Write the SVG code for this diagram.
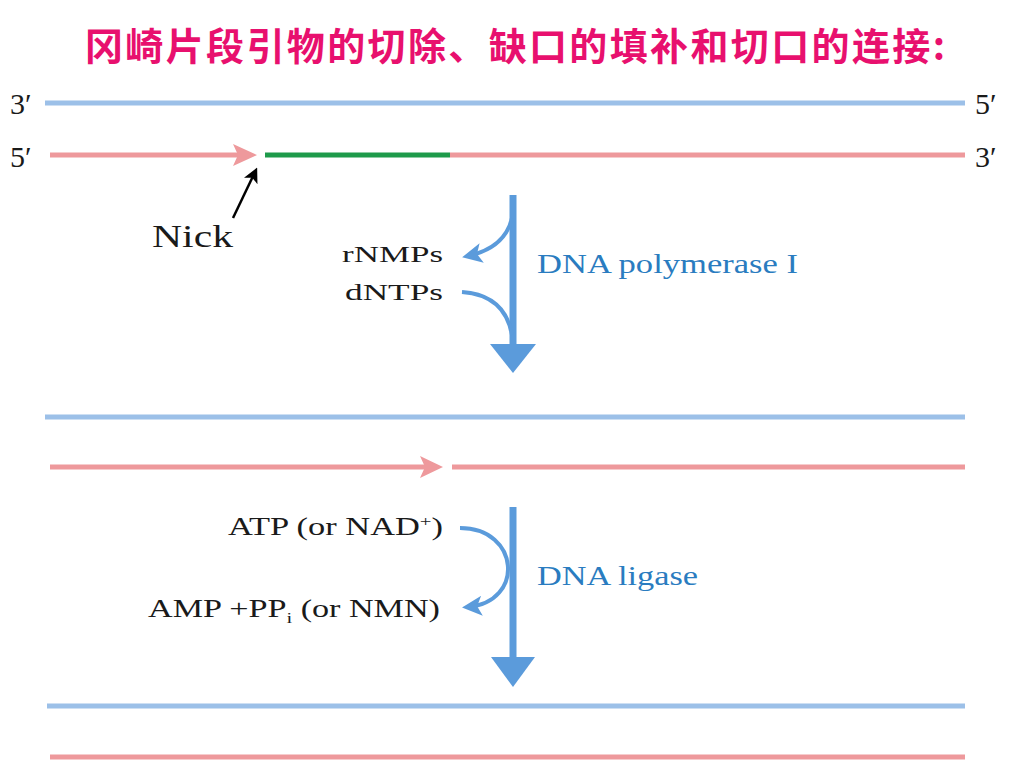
<svg xmlns="http://www.w3.org/2000/svg" width="1024" height="768" viewBox="0 0 1024 768">
<defs>
<style>
.blue{stroke:#9CC0E8;stroke-width:5;fill:none}
.pink{stroke:#EE999C;stroke-width:5;fill:none}
.green{stroke:#1E9A4A;stroke-width:5;fill:none}
.flow{stroke:#5B9BDB;stroke-width:7;fill:none}
.curve{stroke:#5B9BDB;stroke-width:4;fill:none}
.lbl{fill:#1a1a1a}
.enz{fill:#2A7CC0;font-size:27px}
.title{font-weight:bold;fill:#E8106E;font-size:38px}
</style>
<marker id="blk" markerWidth="6" markerHeight="6" refX="4" refY="3" orient="auto" markerUnits="strokeWidth"><path d="M0,0 L6,3 L0,6 L1.5,3 Z" fill="#000"/></marker>
<marker id="bh" markerWidth="5" markerHeight="5" refX="3.5" refY="2.5" orient="auto" markerUnits="strokeWidth"><path d="M0,0 L5,2.5 L0,5 L1.2,2.5 Z" fill="#5B9BDB"/></marker>
</defs>
<rect width="1024" height="768" fill="#fff"/>
<text class="title" font-family="'Noto Sans CJK SC', 'Noto Sans CJK TC', sans-serif" x="85" y="60" textLength="860" lengthAdjust="spacing">冈崎片段引物的切除、缺口的填补和切口的连接:</text>

<g font-family="'Liberation Serif', 'DejaVu Serif', 'Times New Roman', serif">
<g id="strand1">
<line class="blue" x1="45" y1="103" x2="965" y2="103"/>
<text class="lbl" x="10" y="114" font-size="30">3′</text>
<text class="lbl" x="975" y="114" font-size="30">5′</text>
</g>
<g id="strand2">
<line class="pink" x1="50" y1="155" x2="240" y2="155"/>
<polygon points="233,144 257,155 233,166 238,155" fill="#EE999C"/>
<line class="green" x1="265" y1="155" x2="450" y2="155"/>
<line class="pink" x1="450" y1="155" x2="965" y2="155"/>
<text class="lbl" x="10" y="167" font-size="30">5′</text>
<text class="lbl" x="975" y="167" font-size="30">3′</text>
</g>
<g id="nick">
<text class="lbl" x="152" y="247" font-size="31" textLength="81" lengthAdjust="spacingAndGlyphs">Nick</text>
</g>
<g id="polI">
<text class="lbl" x="342" y="262" font-size="23" textLength="101" lengthAdjust="spacingAndGlyphs">rNMPs</text>
<text class="lbl" x="345" y="300" font-size="23" textLength="98" lengthAdjust="spacingAndGlyphs">dNTPs</text>
<text class="enz" x="537" y="273" textLength="261" lengthAdjust="spacingAndGlyphs">DNA polymerase I</text>
</g>
<g id="strand3">
<line class="blue" x1="45" y1="417" x2="965" y2="417"/>
</g>
<g id="strand4">
<line class="pink" x1="50" y1="467" x2="425" y2="467"/>
<polygon points="420,456 443,467 420,478 425,467" fill="#EE999C"/>
<line class="pink" x1="452" y1="467" x2="965" y2="467"/>
</g>
<g id="ligase">
<text class="lbl" x="228" y="535" font-size="25" textLength="215" lengthAdjust="spacingAndGlyphs">ATP (or NAD<tspan dy="-9" font-size="15">+</tspan><tspan dy="9">)</tspan></text>
<text class="lbl" x="148" y="617" font-size="25" textLength="292" lengthAdjust="spacingAndGlyphs">AMP +PP<tspan dy="6" font-size="15">i</tspan><tspan dy="-6"> (or NMN)</tspan></text>
<text class="enz" x="537" y="585" textLength="161" lengthAdjust="spacingAndGlyphs">DNA ligase</text>
</g>
<g id="strand5">
<line class="blue" x1="47" y1="706" x2="965" y2="706"/>
</g>
<g id="strand6">
<line class="pink" x1="50" y1="757" x2="965" y2="757"/>
</g>
</g>
<g id="connectors">
<line x1="233" y1="218" x2="255" y2="172" stroke="#000" stroke-width="2.5" marker-end="url(#blk)"/>
<line class="flow" x1="513" y1="195" x2="513" y2="348"/>
<polygon points="490,344 536,344 513,373" fill="#5B9BDB"/>
<path class="curve" d="M512,218 Q505,248 468,256" marker-end="url(#bh)"/>
<path class="curve" d="M462,292 Q505,295 512,335"/>
<line class="flow" x1="513" y1="507" x2="513" y2="660"/>
<polygon points="491,657 535,657 513,687" fill="#5B9BDB"/>
<path class="curve" d="M460,528 C520,528 525,602 468,607" marker-end="url(#bh)"/>
</g>
</svg>
